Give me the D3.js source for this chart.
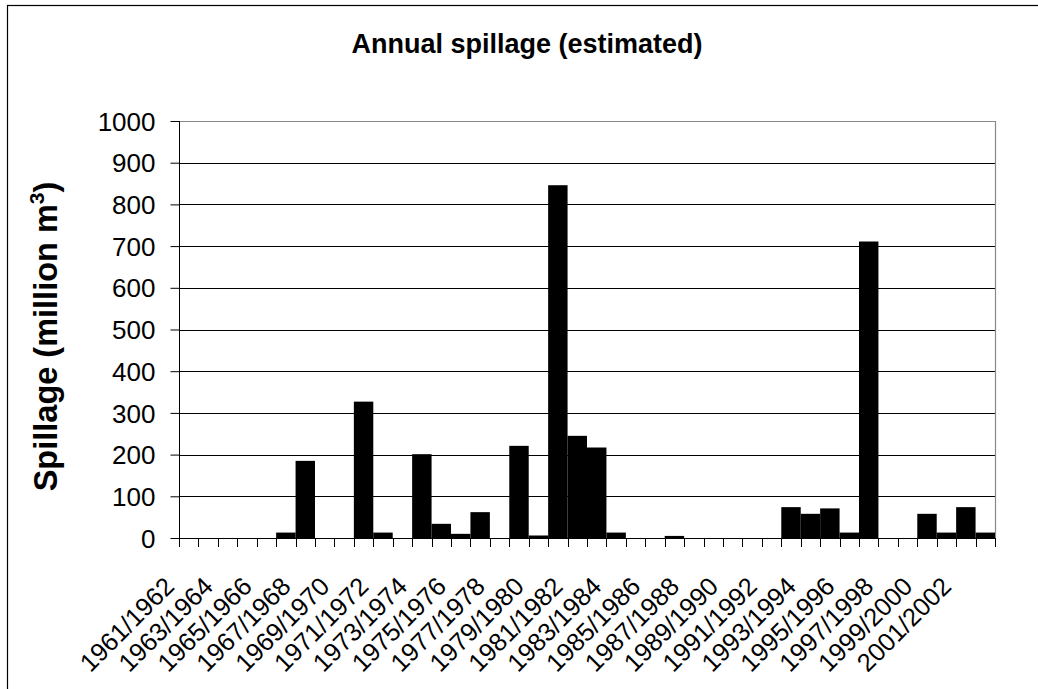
<!DOCTYPE html>
<html>
<head>
<meta charset="utf-8">
<script src="https://cdn.jsdelivr.net/npm/d3@7"></script>
<style>
  html, body { margin: 0; padding: 0; background: #fff; }
  svg { display: block; font-family: "Liberation Sans", Arial, sans-serif; }
</style>
</head>
<body>
<svg id="chart" width="1038" height="689"></svg>
<script>
// ---- data ----
const categories = [
  "1961/1962","1962/1963","1963/1964","1964/1965","1965/1966","1966/1967","1967/1968",
  "1968/1969","1969/1970","1970/1971","1971/1972","1972/1973","1973/1974","1974/1975",
  "1975/1976","1976/1977","1977/1978","1978/1979","1979/1980","1980/1981","1981/1982",
  "1982/1983","1983/1984","1984/1985","1985/1986","1986/1987","1987/1988","1988/1989",
  "1989/1990","1990/1991","1991/1992","1992/1993","1993/1994","1994/1995","1995/1996",
  "1996/1997","1997/1998","1998/1999","1999/2000","2000/2001","2001/2002","2002/2003"
];
const spillage = [
  0, 0, 0, 0, 0, 13, 185,
  0, 0, 327, 13, 0, 201, 34,
  10, 62, 0, 221, 6, 846, 245,
  217, 13, 0, 0, 5, 0, 0,
  0, 0, 0, 74, 58, 71, 13,
  711, 0, 0, 58, 13, 74, 13
];
const yTicks = [0, 100, 200, 300, 400, 500, 600, 700, 800, 900, 1000];
const xTickLabels = categories.filter((d, i) => i % 2 === 0);
const titleText = "Annual spillage (estimated)";
const yLabelText = "Spillage (million m";

// ---- layout ----
const svg = d3.select("#chart");
const plot = { left: 179, right: 995, top: 121, bottom: 538 };

const x = d3.scaleBand().domain(categories).range([plot.left, plot.right]).padding(0);
const y = d3.scaleLinear().domain([0, 1000]).range([plot.bottom, plot.top]);

// outer chart frame
svg.append("rect")
  .attr("x", 7.5).attr("y", 5.5)
  .attr("width", 1100).attr("height", 800)
  .attr("fill", "#fff").attr("stroke", "#000").attr("stroke-width", 1.2);

// gridlines
svg.append("g").selectAll("line")
  .data(yTicks.filter(t => t > 0 && t < 1000))
  .join("line")
  .attr("x1", plot.left).attr("x2", plot.right)
  .attr("y1", d => Math.round(y(d)) + 0.5).attr("y2", d => Math.round(y(d)) + 0.5)
  .attr("stroke", "#000").attr("stroke-width", 1);

// plot-area border (top & right gray)
svg.append("path")
  .attr("d", `M${plot.left},${plot.top + 0.5}H${plot.right + 0.5}V${plot.bottom}`)
  .attr("fill", "none").attr("stroke", "#888").attr("stroke-width", 1.2);

// bars
svg.append("g").selectAll("rect")
  .data(spillage.map((v, i) => ({ c: categories[i], v })))
  .join("rect")
  .attr("x", d => x(d.c))
  .attr("y", d => y(d.v))
  .attr("width", x.bandwidth())
  .attr("height", d => y(0) - y(d.v))
  .attr("fill", "#000");

// y axis
const yAxis = d3.axisLeft(y).tickValues(yTicks).tickSize(9).tickPadding(15)
  .tickFormat(d3.format("d"));
const gy = svg.append("g").attr("transform", `translate(${plot.left + 0.5},0)`).call(yAxis);
gy.select(".domain").attr("stroke", "#000").attr("d", `M0,${plot.top}V${plot.bottom + 0.5}`);
gy.selectAll(".tick line").attr("stroke", "#000");
gy.selectAll(".tick text")
  .attr("font-size", 26).attr("font-family", "'Liberation Sans', Arial, sans-serif")
  .attr("fill", "#000").attr("dy", "0.35em");

// x axis: ticks between categories
const boundaries = d3.range(categories.length + 1).map(i => plot.left + i * x.step());
svg.append("g").selectAll("line")
  .data(boundaries)
  .join("line")
  .attr("x1", d => Math.round(d) + 0.5).attr("x2", d => Math.round(d) + 0.5)
  .attr("y1", plot.bottom).attr("y2", plot.bottom + 9)
  .attr("stroke", "#000");
svg.append("line")
  .attr("x1", plot.left).attr("x2", plot.right + 0.5)
  .attr("y1", plot.bottom + 0.5).attr("y2", plot.bottom + 0.5)
  .attr("stroke", "#000");

// x labels (every second category)
svg.append("g").selectAll("text")
  .data(xTickLabels)
  .join("text")
  .attr("transform", d => `translate(${x(d) + x.bandwidth() / 2 - 13},${plot.bottom + 50}) rotate(-45)`)
  .attr("text-anchor", "end")
  .attr("font-size", 25.5)
  .attr("fill", "#000")
  .text(d => d);

// title
svg.append("text")
  .attr("x", 527).attr("y", 53)
  .attr("text-anchor", "middle")
  .attr("font-size", 27).attr("font-weight", "bold")
  .text(titleText);

// y label
const yl = svg.append("text")
  .attr("transform", `translate(57,${(plot.top + plot.bottom) / 2 + 7}) rotate(-90)`)
  .attr("text-anchor", "middle")
  .attr("font-size", 32.5).attr("font-weight", "bold");
yl.append("tspan").text(yLabelText);
yl.append("tspan").attr("font-size", 21).attr("dy", -13).text("3");
yl.append("tspan").attr("dy", 13).text(")");
</script>
</body>
</html>
